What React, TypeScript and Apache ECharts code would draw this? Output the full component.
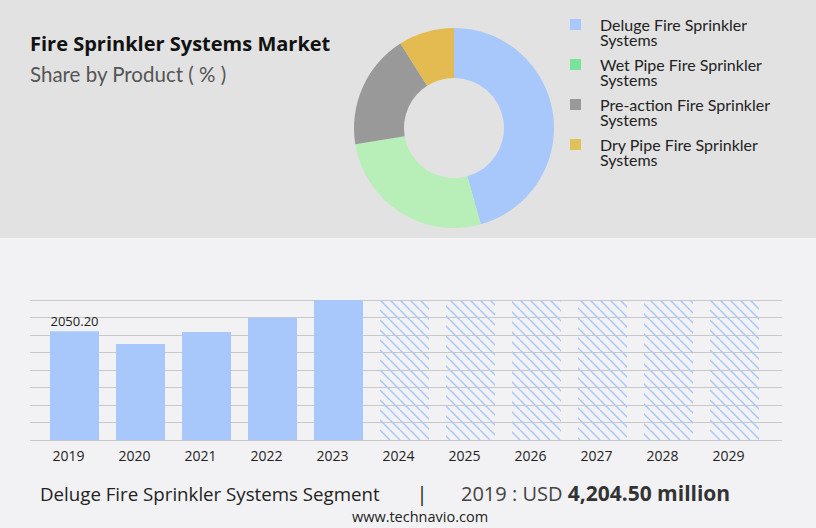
import React, { useEffect, useRef } from 'react';
import * as echarts from 'echarts';

const years = ['2019', '2020', '2021', '2022', '2023', '2024', '2025', '2026', '2027', '2028', '2029'];
const actualValues = [2050.2, 1810, 2036, 2307, 2640, null, null, null, null, null, null];
const forecastValues = [null, null, null, null, null, 2640, 2640, 2640, 2640, 2640, 2640];
const firstLabel = '2050.20';

const productNames = [
  'Deluge Fire Sprinkler Systems',
  'Wet Pipe Fire Sprinkler Systems',
  'Pre-action Fire Sprinkler Systems',
  'Dry Pipe Fire Sprinkler Systems',
];
const productShares = [45.7, 26.7, 18.6, 9.0];
const sliceColors = ['#a8c8fc', '#b8eeb8', '#999999', '#e4bb50'];
const legendColors = ['#a8c8fc', '#78e49a', '#999999', '#dfc35a'];

const titleText = 'Fire Sprinkler Systems Market';
const subtitleText = 'Share by Product ( % )';
const footerSegment = 'Deluge Fire Sprinkler Systems Segment';
const footerYear = '2019 : USD ';
const footerValue = '4,204.50 million';
const footerSite = 'www.technavio.com';

export default function App() {
  const ref = useRef<HTMLDivElement>(null);
  useEffect(() => {
    if (!ref.current) return;
    const chart = echarts.init(ref.current, undefined, { renderer: 'svg' });

    const c = document.createElement('canvas');
    c.width = 10;
    c.height = 10;
    const ctx = c.getContext('2d')!;
    ctx.strokeStyle = '#a8c8fc';
    ctx.lineWidth = 1.5;
    for (const k of [-1, 0, 1]) {
      ctx.beginPath();
      ctx.moveTo(k * 10, 0);
      ctx.lineTo(k * 10 + 10, 10);
      ctx.stroke();
    }

    const lh = 15;
    const legends = productNames.map((name, i) => ({
      orient: 'vertical',
      left: 570,
      top: 24 - lh * 1.5 + i * 40,
      padding: 0,
      icon: 'rect',
      itemWidth: 11,
      itemHeight: 11,
      selectedMode: false,
      data: [{ name, itemStyle: { color: legendColors[i] } }],
      formatter: (n: string) => '\n' + n.replace(' Systems', '\nSystems'),
      textStyle: {
        fontFamily: 'Lato',
        fontSize: 16,
        lineHeight: lh,
        color: '#222',
        padding: [0, 0, 0, 14],
      },
    }));

    chart.setOption({
      animation: false,
      backgroundColor: '#f2f2f4',
      graphic: [
        { type: 'rect', z: -10, shape: { x: 0, y: 0, width: 816, height: 238 }, style: { fill: '#e2e2e2' } },
        { type: 'text', x: 30, y: 43, style: { text: titleText, fontFamily: 'Open Sans', fontWeight: 'bold', fontSize: 20, fill: '#111', verticalAlign: 'middle' } },
        { type: 'text', x: 30, y: 74, style: { text: subtitleText, fontFamily: 'Lato', fontSize: 20.5, fill: '#555', verticalAlign: 'middle' } },
        { type: 'text', x: 40, y: 493, style: { text: footerSegment, fontFamily: 'Open Sans', fontSize: 18.7, fill: '#222', verticalAlign: 'middle' } },
        { type: 'text', x: 422, y: 493, style: { text: '|', fontFamily: 'Open Sans', fontSize: 20, fill: '#222', verticalAlign: 'middle', align: 'center' } },
        {
          type: 'text', x: 461, y: 493,
          style: {
            text: '{a|' + footerYear + '}{b|' + footerValue + '}',
            verticalAlign: 'middle',
            rich: {
              a: { fontFamily: 'Open Sans', fontSize: 20, fill: '#444' },
              b: { fontFamily: 'Open Sans', fontSize: 21, fontWeight: 'bold', fill: '#333' },
            },
          },
        },
        { type: 'text', x: 420, y: 516, style: { text: footerSite, fontFamily: 'Open Sans', fontSize: 14.5, fill: '#222', verticalAlign: 'middle', align: 'center' } },
      ],
      legend: legends,
      grid: [
        { left: 30, right: 34, top: 300, height: 140 },
        { left: 41.5, width: 726, top: 300, height: 140 },
      ],
      xAxis: [
        { gridIndex: 0, type: 'value', show: false, min: 0, max: 1 },
        {
          gridIndex: 1,
          type: 'category',
          data: years,
          axisLine: { show: false },
          axisTick: { show: false },
          axisLabel: { color: '#222', fontFamily: 'Open Sans', fontSize: 14, margin: 8, padding: [0, 12, 0, 0] },
        },
      ],
      yAxis: [
        {
          gridIndex: 0, type: 'value', min: 0, max: 2640, interval: 330,
          axisLabel: { show: false }, axisLine: { show: false }, axisTick: { show: false },
          splitLine: { show: true, lineStyle: { color: '#c8c8c8', width: 1 } },
        },
        { gridIndex: 1, type: 'value', min: 0, max: 2640, interval: 330, show: false, splitLine: { show: false } },
      ],
      series: [
        {
          type: 'pie',
          center: [454, 128],
          radius: [50, 100],
          startAngle: 90,
          clockwise: true,
          label: { show: false },
          labelLine: { show: false },
          emphasis: { disabled: true },
          data: productNames.map((name, i) => ({ name, value: productShares[i], itemStyle: { color: sliceColors[i] } })),
        },
        {
          type: 'bar',
          xAxisIndex: 1,
          yAxisIndex: 1,
          barWidth: 49,
          barGap: '-100%',
          itemStyle: { color: '#a8c8fc' },
          data: actualValues.map((v, i) =>
            i === 0
              ? { value: v, label: { show: true, position: 'top', formatter: firstLabel, color: '#222', fontFamily: 'Open Sans', fontSize: 13, distance: 4 } }
              : v
          ),
        },
        {
          type: 'bar',
          xAxisIndex: 1,
          yAxisIndex: 1,
          barWidth: 49,
          barGap: '-100%',
          itemStyle: { color: { image: c, repeat: 'repeat' } },
          data: forecastValues,
        },
      ],
    });
    return () => chart.dispose();
  }, []);
  return <div ref={ref} style={{ position: 'fixed', left: 0, top: 0, width: 816, height: 528 }} />;
}
